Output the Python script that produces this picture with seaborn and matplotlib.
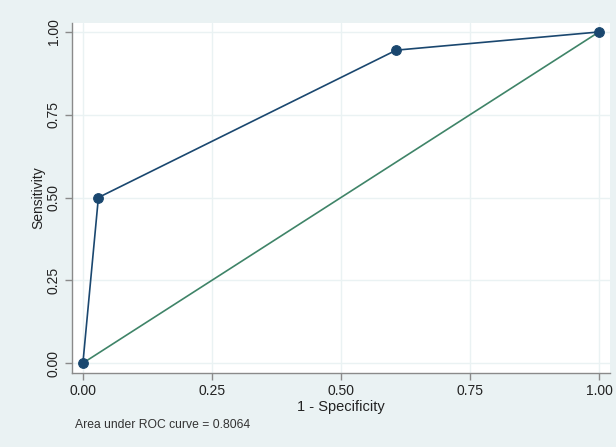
import pandas as pd
import matplotlib.pyplot as plt
import seaborn as sns

# ROC points
fpr = [0.0, 0.03, 0.607, 1.0]
tpr = [0.0, 0.5, 0.945, 1.0]
ref_x = [0.0, 1.0]
ref_y = [0.0, 1.0]
ticks = [0.0, 0.25, 0.5, 0.75, 1.0]
tick_labels = ['0.00', '0.25', '0.50', '0.75', '1.00']
auc_text = 'Area under ROC curve = 0.8064'

sns.set_style('white')
plt.rcParams['font.family'] = ['Liberation Sans', 'DejaVu Sans']

bg = '#EAF2F3'
fig = plt.figure(figsize=(6.16, 4.47), dpi=100, facecolor=bg)
ax = fig.add_axes([0.117, 0.1655, 0.873, 0.783])
ax.set_facecolor('white')

roc = pd.DataFrame({'fpr': fpr, 'tpr': tpr})
ref = pd.DataFrame({'x': ref_x, 'y': ref_y})

sns.lineplot(data=ref, x='x', y='y', ax=ax, color='#3F8468', linewidth=1.2, zorder=2)
sns.lineplot(data=roc, x='fpr', y='tpr', ax=ax, sort=False, color='#1A476F',
             linewidth=1.2, marker='o', markersize=7, markeredgecolor='#1A476F', zorder=3)

ax.set_xlim(-0.021, 1.021)
ax.set_ylim(-0.030, 1.027)
ax.set_xticks(ticks)
ax.set_xticklabels(tick_labels)
ax.set_yticks(ticks)
ax.set_yticklabels(tick_labels, rotation=90, va='center')
ax.grid(True, color='#EAF2F3', linewidth=1.0)
ax.set_axisbelow(True)

for side in ['top', 'right']:
    ax.spines[side].set_visible(False)
for side in ['left', 'bottom']:
    ax.spines[side].set_color('#8A8A8A')
    ax.spines[side].set_linewidth(1.0)

ax.tick_params(axis='both', which='major', direction='out', length=5, width=1,
               color='#8A8A8A', labelsize=10, labelcolor='#222222', pad=3,
               left=True, bottom=True)
ax.set_xlabel('1 - Specificity', fontsize=10.5, color='#222222', labelpad=1)
ax.set_ylabel('Sensitivity', fontsize=10, color='#222222')
ax.yaxis.set_label_coords(-0.05, 0.5)

fig.text(75 / 616, 1 - 425 / 447, auc_text, fontsize=8.7, color='#333333', va='center')

plt.savefig('out.png', dpi=100, facecolor=bg)
